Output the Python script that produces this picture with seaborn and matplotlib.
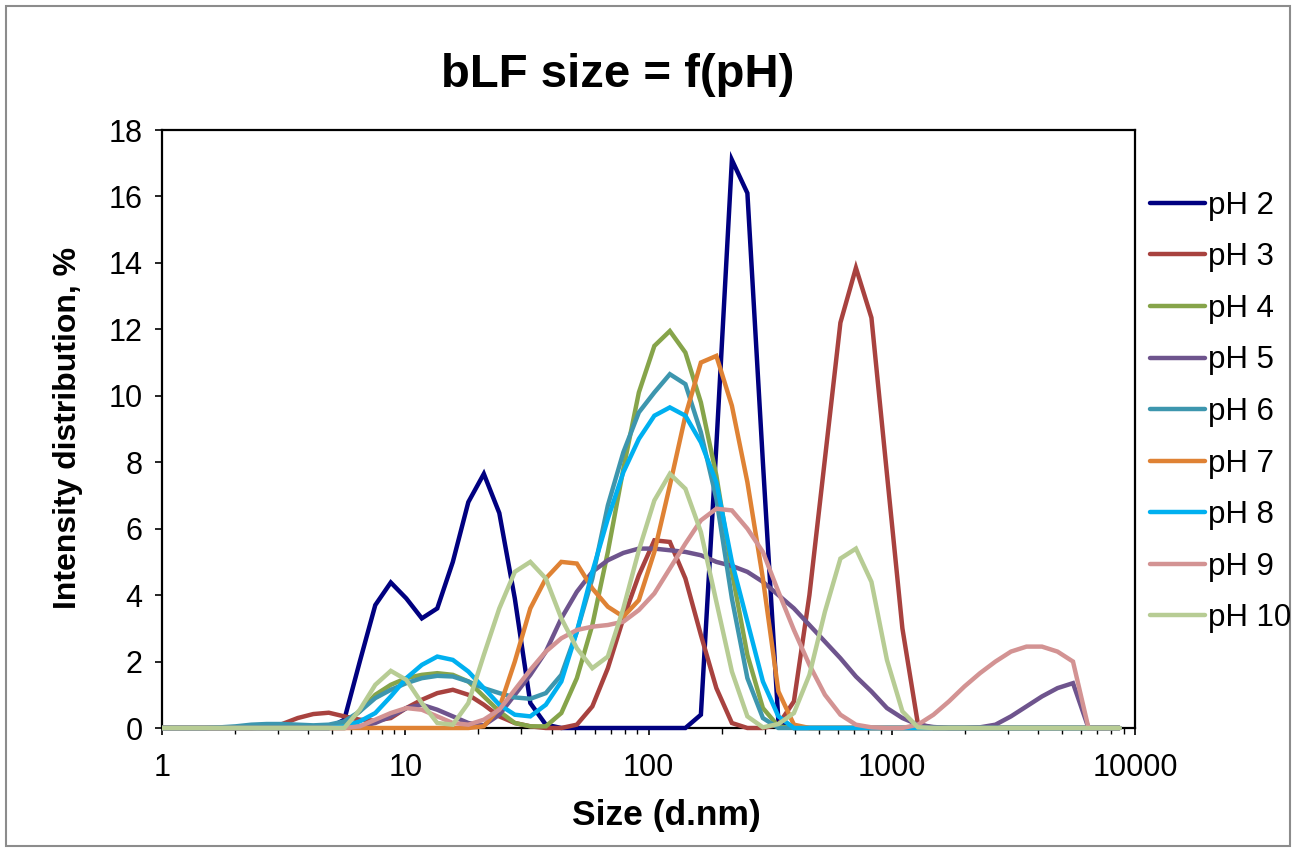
import matplotlib
matplotlib.use('Agg')
import matplotlib.pyplot as plt
import pandas as pd
import seaborn as sns
from matplotlib.lines import Line2D
from matplotlib.patches import Rectangle
from matplotlib.transforms import Bbox, TransformedBbox
from matplotlib.ticker import FixedLocator, LogLocator, NullFormatter


# size classes (d.nm) and intensity distributions (%)
sizes = [0.4, 0.4632, 0.5365, 0.6213, 0.7195, 0.8332, 0.965, 1.117, 1.294, 1.499,
         1.736, 2.01, 2.328, 2.696, 3.122, 3.615, 4.187, 4.849, 5.615, 6.503,
         7.531, 8.721, 10.1, 11.7, 13.54, 15.69, 18.17, 21.04, 24.36, 28.21,
         32.67, 37.84, 43.82, 50.75, 58.77, 68.06, 78.82, 91.28, 105.7, 122.4,
         141.8, 164.2, 190.1, 220.2, 255.0, 295.3, 342.0, 396.1, 458.7, 531.2,
         615.1, 712.4, 825.0, 955.4, 1106, 1281, 1484, 1718, 1990, 2305,
         2669, 3091, 3580, 4145, 4801, 5560, 6439, 7456, 8635]

ph2 = [0, 0, 0, 0, 0, 0, 0, 0, 0, 0,
       0, 0, 0, 0, 0, 0, 0, 0, 0.25, 2.0,
       3.7, 4.38, 3.9, 3.3, 3.6, 5.0, 6.8, 7.65, 6.47, 3.9,
       0.75, 0.1, 0, 0, 0, 0, 0, 0, 0, 0,
       0, 0.4, 8.5, 17.1, 16.1, 8.0, 0.2, 0, 0, 0,
       0, 0, 0, 0, 0, 0, 0, 0, 0, 0,
       0, 0, 0, 0, 0, 0, 0, 0, 0]

ph3 = [0, 0, 0, 0, 0, 0, 0, 0, 0, 0,
       0, 0, 0, 0.02, 0.12, 0.3, 0.42, 0.46, 0.35, 0.25,
       0.22, 0.3, 0.6, 0.85, 1.05, 1.15, 1.0, 0.7, 0.35, 0.15,
       0.05, 0, 0, 0.1, 0.65, 1.8, 3.3, 4.6, 5.65, 5.6,
       4.5, 2.8, 1.2, 0.15, 0, 0, 0.1, 0.8, 4.0, 8.1,
       12.2, 13.85, 12.35, 7.65, 3.0, 0.12, 0, 0, 0, 0,
       0, 0, 0, 0, 0, 0, 0, 0, 0]

ph4 = [0, 0, 0, 0, 0, 0, 0, 0, 0, 0,
       0, 0, 0, 0, 0, 0, 0, 0, 0.1, 0.5,
       1.0, 1.3, 1.5, 1.6, 1.65, 1.6, 1.4, 0.95, 0.5, 0.15,
       0.05, 0.05, 0.45, 1.5, 3.1, 5.3, 7.8, 10.1, 11.5, 11.95,
       11.3, 9.8, 7.6, 4.7, 2.2, 0.6, 0.05, 0, 0, 0,
       0, 0, 0, 0, 0, 0, 0, 0, 0, 0,
       0, 0, 0, 0, 0, 0, 0, 0, 0]

ph5 = [0, 0, 0, 0, 0, 0, 0, 0, 0, 0,
       0, 0, 0, 0, 0, 0, 0, 0, 0, 0.05,
       0.15, 0.35, 0.6, 0.7, 0.55, 0.35, 0.15, 0.08, 0.4, 1.0,
       1.6, 2.3, 3.3, 4.1, 4.7, 5.05, 5.27, 5.4, 5.4, 5.35,
       5.3, 5.2, 5.0, 4.88, 4.7, 4.4, 4.0, 3.6, 3.1, 2.6,
       2.1, 1.55, 1.1, 0.6, 0.3, 0.1, 0.03, 0, 0, 0.02,
       0.1, 0.35, 0.65, 0.95, 1.2, 1.35, 0, 0, 0]

ph6 = [0, 0, 0, 0, 0, 0, 0, 0, 0, 0,
       0.02, 0.05, 0.1, 0.12, 0.12, 0.1, 0.08, 0.1, 0.2, 0.5,
       0.9, 1.15, 1.35, 1.5, 1.57, 1.55, 1.4, 1.2, 1.05, 0.92,
       0.88, 1.05, 1.6, 2.9, 4.5, 6.7, 8.3, 9.5, 10.1, 10.65,
       10.35, 8.9, 6.9, 3.9, 1.5, 0.3, 0, 0, 0, 0,
       0, 0, 0, 0, 0, 0, 0, 0, 0, 0,
       0, 0, 0, 0, 0, 0, 0, 0, 0]

ph7 = [0, 0, 0, 0, 0, 0, 0, 0, 0, 0,
       0, 0, 0, 0, 0, 0, 0, 0, 0, 0,
       0, 0, 0, 0, 0, 0, 0, 0.05, 0.6, 2.0,
       3.6, 4.5, 5.0, 4.95, 4.2, 3.65, 3.35, 3.85, 5.3, 7.3,
       9.4, 11.0, 11.2, 9.7, 7.4, 4.5, 1.1, 0.1, 0, 0,
       0, 0, 0, 0, 0, 0, 0, 0, 0, 0,
       0, 0, 0, 0, 0, 0, 0, 0, 0]

ph8 = [0, 0, 0, 0, 0, 0, 0, 0, 0, 0,
       0, 0, 0, 0, 0, 0, 0, 0, 0.05, 0.2,
       0.45, 0.95, 1.5, 1.9, 2.15, 2.05, 1.7, 1.2, 0.7, 0.4,
       0.35, 0.7, 1.4, 2.9, 4.7, 6.3, 7.7, 8.7, 9.4, 9.65,
       9.4, 8.6, 7.4, 5.0, 3.2, 1.4, 0.35, 0, 0, 0,
       0, 0, 0, 0, 0, 0, 0, 0, 0, 0,
       0, 0, 0, 0, 0, 0, 0, 0, 0]

ph9 = [0, 0, 0, 0, 0, 0, 0, 0, 0, 0,
       0, 0, 0, 0, 0, 0, 0, 0, 0, 0.05,
       0.25, 0.45, 0.6, 0.55, 0.35, 0.15, 0.1, 0.25, 0.55, 1.15,
       1.75, 2.3, 2.7, 2.95, 3.05, 3.1, 3.2, 3.55, 4.05, 4.8,
       5.55, 6.25, 6.6, 6.55, 6.0, 5.3, 4.1, 2.95, 1.9, 1.0,
       0.4, 0.1, 0.02, 0, 0, 0.1, 0.4, 0.8, 1.25, 1.65,
       2.0, 2.3, 2.45, 2.45, 2.3, 2.0, 0, 0, 0]

ph10 = [0, 0, 0, 0, 0, 0, 0, 0, 0, 0,
        0, 0, 0, 0, 0, 0, 0, 0, 0, 0.55,
        1.3, 1.72, 1.45, 0.75, 0.15, 0.1, 0.75, 2.2, 3.6, 4.7,
        5.0, 4.5, 3.3, 2.4, 1.8, 2.15, 3.6, 5.35, 6.85, 7.65,
        7.2, 5.9, 3.8, 1.7, 0.35, 0.02, 0.12, 0.45, 1.6, 3.5,
        5.1, 5.4, 4.4, 2.05, 0.5, 0.02, 0, 0, 0, 0,
        0, 0, 0, 0, 0, 0, 0, 0, 0]

labels = ['pH 2', 'pH 3', 'pH 4', 'pH 5', 'pH 6', 'pH 7', 'pH 8', 'pH 9', 'pH 10']
colors = ['#000080', '#A8423F', '#86A44A', '#6E548D', '#3D96AE',
          '#DF8234', '#00B0F0', '#D39393', '#B7CC94']

series = [ph2, ph3, ph4, ph5, ph6, ph7, ph8, ph9, ph10]
df = pd.DataFrame({
    'size': sizes * len(series),
    'value': [v for s in series for v in s],
    'label': [lab for lab in labels for _ in sizes],
})

sns.set_theme(style='white')
plt.rcParams['font.family'] = ['Liberation Sans', 'DejaVu Sans']
plt.rcParams['text.color'] = 'black'
plt.rcParams['axes.labelcolor'] = 'black'

W, H = 1294, 850
fig = plt.figure(figsize=(W / 100, H / 100), dpi=100)
ax = fig.add_axes([162 / W, 1 - 728 / H, 973 / W, 598 / H])

sns.lineplot(data=df, x='size', y='value', hue='label', hue_order=labels,
             palette=colors, sort=False, estimator=None, linewidth=3.2,
             legend=False, ax=ax)

ax.set_xscale('log')
ax.set_xlim(1, 10000)
ax.set_ylim(0, 18)

# let the lines sit on top of the baseline like Excel does
clip = TransformedBbox(Bbox([[0, -0.02], [1, 1.02]]), ax.transAxes)
for ln in ax.lines:
    ln.set_clip_box(clip)
    ln.set_zorder(3)
    ln.set_solid_joinstyle('miter')

ax.yaxis.set_major_locator(FixedLocator(range(0, 19, 2)))
ax.xaxis.set_major_locator(FixedLocator([1, 10, 100, 1000, 10000]))
ax.xaxis.set_minor_locator(LogLocator(base=10, subs=range(2, 10)))
ax.xaxis.set_minor_formatter(NullFormatter())
ax.set_xticklabels(['1', '10', '100', '1000', '10000'])

ax.tick_params(axis='both', which='major', direction='out', length=5, width=1.2,
               color='black', labelsize=22, labelcolor='black')
ax.tick_params(axis='y', pad=9, left=True)
ax.tick_params(axis='x', pad=13, bottom=True)
ax.tick_params(axis='x', which='minor', direction='out', length=4, width=1.0,
               color='black', bottom=True)

for sp in ax.spines.values():
    sp.set_visible(True)
    sp.set_color('black')
    sp.set_linewidth(1.6)

ax.set_xlabel('')
ax.set_ylabel('')
fig.text(666 / W, 1 - 815 / H, 'Size (d.nm)', ha='center', va='center',
         fontsize=25.5, fontweight='bold')
fig.text(68 / W, 1 - 428 / H, 'Intensity distribution, %', ha='center', va='center',
         rotation=90, fontsize=23, fontweight='bold')
fig.text(618 / W, 1 - 75 / H, 'bLF size = f(pH)', ha='center', va='center',
         fontsize=34, fontweight='bold')

handles = [Line2D([0], [0], color=c, lw=3.2, solid_capstyle='round') for c in colors]
fig.legend(handles, labels, loc='center left', bbox_to_anchor=(1150 / W, 1 - 412 / H),
           frameon=False, fontsize=22.5, handlelength=1.75, handletextpad=0.12,
           labelspacing=0.69, borderpad=0, borderaxespad=0)

# chart area border
fig.patches.append(Rectangle((6 / W, 4 / H), (W - 10) / W, (H - 10) / H,
                             transform=fig.transFigure, fill=False,
                             edgecolor='#8c8c8c', linewidth=1.5))

fig.savefig('out.png', dpi=100)
